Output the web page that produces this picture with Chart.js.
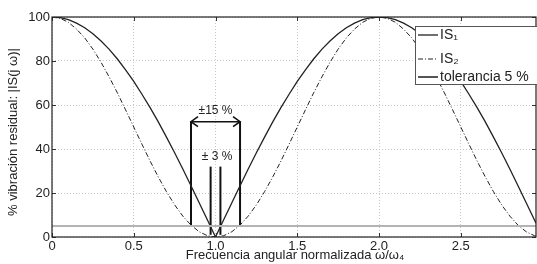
<!DOCTYPE html>
<html>
<head>
<meta charset="utf-8">
<script src="https://cdn.jsdelivr.net/npm/chart.js@4/dist/chart.umd.min.js"></script>
<style>
  html, body { margin: 0; padding: 0; background: #fff; }
  #wrap { width: 537px; height: 264px; position: relative; }
</style>
</head>
<body>
<div id="wrap"><canvas id="chart" width="537" height="264"></canvas></div>
<script>
// Frecuencia normalizada (eje x)
const freq = [0, 0.05, 0.1, 0.15, 0.2, 0.25, 0.3, 0.35, 0.4, 0.45, 0.5, 0.55, 0.6, 0.65, 0.7, 0.75, 0.8, 0.85, 0.9, 0.95,
  1, 1.05, 1.1, 1.15, 1.2, 1.25, 1.3, 1.35, 1.4, 1.45, 1.5, 1.55, 1.6, 1.65, 1.7, 1.75, 1.8, 1.85, 1.9, 1.95,
  2, 2.05, 2.1, 2.15, 2.2, 2.25, 2.3, 2.35, 2.4, 2.45, 2.5, 2.55, 2.6, 2.65, 2.7, 2.75, 2.8, 2.85, 2.9, 2.95, 2.96];

// IS1 (linea continua)
const is1 = [100, 99.7, 98.8, 97.2, 95.1, 92.4, 89.1, 85.3, 80.9, 76.0, 70.7, 64.9, 58.8, 52.3, 45.4, 38.3, 30.9, 23.3, 15.6, 7.8,
  0, 7.8, 15.6, 23.3, 30.9, 38.3, 45.4, 52.3, 58.8, 64.9, 70.7, 76.0, 80.9, 85.3, 89.1, 92.4, 95.1, 97.2, 98.8, 99.7,
  100, 99.7, 98.8, 97.2, 95.1, 92.4, 89.1, 85.3, 80.9, 76.0, 70.7, 64.9, 58.8, 52.3, 45.4, 38.3, 30.9, 23.3, 15.6, 7.8, 6.3];

// IS2 (linea punto-raya)
const is2 = [100, 99.4, 97.6, 94.5, 90.5, 85.4, 79.4, 72.7, 65.5, 57.8, 50.0, 42.2, 34.5, 27.3, 20.6, 14.6, 9.5, 5.4, 2.4, 0.6,
  0, 0.6, 2.4, 5.4, 9.5, 14.6, 20.6, 27.3, 34.5, 42.2, 50.0, 57.8, 65.5, 72.7, 79.4, 85.4, 90.5, 94.5, 97.6, 99.4,
  100, 99.4, 97.6, 94.5, 90.5, 85.4, 79.4, 72.7, 65.5, 57.8, 50.0, 42.2, 34.5, 27.3, 20.6, 14.6, 9.5, 5.4, 2.4, 0.6, 0.4];

const tolerancia = 5; // 5 %
const xTicks = [0, 0.5, 1, 1.5, 2, 2.5];
const yTicks = [0, 20, 40, 60, 80, 100];

// anotaciones +-15 % y +-3 %
const band15 = [0.85, 1.15];
const band15Top = 52.4;
const band3 = [0.97, 1.03];
const band3Top = 32;

const legendLabels = ['IS\u2081', 'IS\u2082', 'tolerancia 5 %'];

const FONT = '"Liberation Sans", Arial, sans-serif';

function pts(xs, ys) {
    return xs.map((x, i) => ({ x: x, y: ys[i] }));
}

function seg(x1, y1, x2, y2) {
    return [{ x: x1, y: y1 }, { x: x2, y: y2 }];
}

const annLine = { borderColor: '#111', borderWidth: 2, pointRadius: 0, tension: 0 };

// Dibuja marco, marcas, flechas, textos y la leyenda
const extras = {
    id: 'extras',
    afterDatasetsDraw(chart) {
        const ctx = chart.ctx;
        const a = chart.chartArea;
        const xs = chart.scales.x, ys = chart.scales.y;
        ctx.save();

        // marcas de los ejes (hacia dentro)
        ctx.strokeStyle = '#333';
        ctx.lineWidth = 1;
        ctx.beginPath();
        xTicks.forEach(v => {
            const px = Math.round(xs.getPixelForValue(v)) + 0.5;
            ctx.moveTo(px, a.bottom); ctx.lineTo(px, a.bottom - 4);
            ctx.moveTo(px, a.top); ctx.lineTo(px, a.top + 4);
        });
        yTicks.forEach(v => {
            const py = Math.round(ys.getPixelForValue(v)) + 0.5;
            ctx.moveTo(a.left, py); ctx.lineTo(a.left + 4, py);
            ctx.moveTo(a.right, py); ctx.lineTo(a.right - 4, py);
        });
        ctx.stroke();

        // marco
        ctx.strokeStyle = '#222';
        ctx.lineWidth = 1.2;
        ctx.strokeRect(a.left, a.top, a.right - a.left, a.bottom - a.top);

        // puntas de flecha
        const yA = ys.getPixelForValue(band15Top);
        const xl = xs.getPixelForValue(band15[0]);
        const xr = xs.getPixelForValue(band15[1]);
        ctx.strokeStyle = '#111';
        ctx.lineWidth = 1.6;
        ctx.beginPath();
        ctx.moveTo(xl + 7, yA - 5); ctx.lineTo(xl, yA); ctx.lineTo(xl + 7, yA + 5);
        ctx.moveTo(xr - 7, yA - 5); ctx.lineTo(xr, yA); ctx.lineTo(xr - 7, yA + 5);
        ctx.stroke();

        // textos
        ctx.fillStyle = '#222';
        ctx.font = '12px ' + FONT;
        ctx.textAlign = 'center';
        ctx.textBaseline = 'middle';
        ctx.fillText('\u00b115 %', xs.getPixelForValue(1.0), ys.getPixelForValue(57.5));
        ctx.fillText('\u00b1 3 %', xs.getPixelForValue(1.01), ys.getPixelForValue(36.5));

        // leyenda
        const lx = 415, ly = 26, lw = 130, lh = 58;
        ctx.fillStyle = '#fff';
        ctx.fillRect(lx, ly, lw, lh);
        ctx.strokeStyle = '#555';
        ctx.lineWidth = 1;
        ctx.strokeRect(lx + 0.5, ly + 0.5, lw, lh);
        const rows = [35, 59, 77];
        const styles = [
            { c: '#222', w: 1.3, d: [] },
            { c: '#222', w: 1, d: [5, 2, 1, 2] },
            { c: '#555', w: 2, d: [] }
        ];
        ctx.textAlign = 'left';
        ctx.font = '14px ' + FONT;
        rows.forEach((ry, i) => {
            ctx.strokeStyle = styles[i].c;
            ctx.lineWidth = styles[i].w;
            ctx.setLineDash(styles[i].d);
            ctx.beginPath();
            ctx.moveTo(418, ry); ctx.lineTo(438, ry);
            ctx.stroke();
            ctx.setLineDash([]);
            ctx.fillStyle = '#222';
            ctx.fillText(legendLabels[i], 440, ry);
        });

        // titulos de los ejes
        ctx.font = '13px ' + FONT;
        ctx.textAlign = 'center';
        ctx.fillText('Frecuencia angular normalizada \u03c9/\u03c9\u2084', 295, 255);
        ctx.save();
        ctx.translate(13, 132);
        ctx.rotate(-Math.PI / 2);
        ctx.fillText('% vibraci\u00f3n residual: |IS(j \u03c9)|', 0, 0);
        ctx.restore();

        ctx.restore();
    }
};

const ctx = document.getElementById('chart').getContext('2d');
const chart = new Chart(ctx, {
    type: 'line',
    data: {
        datasets: [
            { data: pts(freq, freq.map(() => tolerancia)), borderColor: '#b4b4b4', borderWidth: 2, pointRadius: 0, tension: 0 },
            { data: pts(freq, is2), borderColor: '#222', borderWidth: 1, borderDash: [5, 2, 1, 2], pointRadius: 0, tension: 0 },
            { data: pts(freq, is1), borderColor: '#222', borderWidth: 1.3, pointRadius: 0, tension: 0 },
            Object.assign({ data: seg(band15[0], tolerancia, band15[0], band15Top) }, annLine),
            Object.assign({ data: seg(band15[1], tolerancia, band15[1], band15Top) }, annLine),
            Object.assign({ data: seg(band15[0], band15Top, band15[1], band15Top) }, annLine, { borderWidth: 1.6 }),
            Object.assign({ data: seg(band3[0], 1, band3[0], band3Top) }, annLine),
            Object.assign({ data: seg(band3[1], 1, band3[1], band3Top) }, annLine)
        ]
    },
    options: {
        responsive: false,
        animation: false,
        layout: { padding: { top: 17, right: 1, left: 0, bottom: 0 } },
        plugins: { legend: { display: false }, tooltip: { enabled: false } },
        scales: {
            x: {
                type: 'linear',
                min: 0,
                max: 2.96,
                afterBuildTicks: s => { s.ticks = xTicks.map(v => ({ value: v })); },
                afterFit: s => { s.height = 27; },
                grid: { color: '#c8c8c8', drawTicks: false, lineWidth: 1 },
                border: { display: false, dash: [1, 2] },
                ticks: { color: '#222', font: { family: FONT, size: 13 }, padding: 2, maxRotation: 0 }
            },
            y: {
                min: 0,
                max: 100,
                afterBuildTicks: s => { s.ticks = yTicks.map(v => ({ value: v })); },
                afterFit: s => { s.width = 52; },
                grid: { color: '#c8c8c8', drawTicks: false, lineWidth: 1 },
                border: { display: false, dash: [1, 2] },
                ticks: { color: '#222', font: { family: FONT, size: 13 }, padding: 2 }
            }
        }
    },
    plugins: [extras]
});
</script>
</body>
</html>
